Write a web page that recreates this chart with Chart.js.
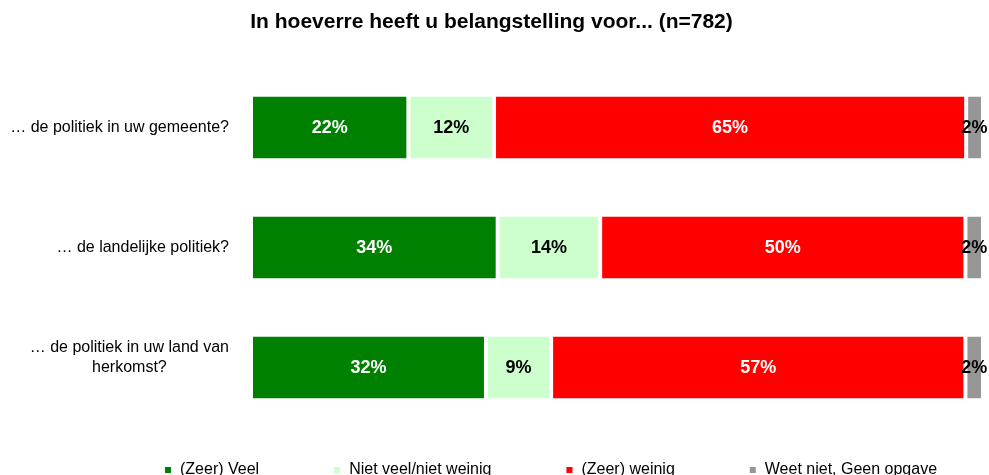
<!DOCTYPE html>
<html>
<head>
<meta charset="utf-8">
<script src="https://cdn.jsdelivr.net/npm/chart.js@4"></script>
<style>
    html, body { margin: 0; padding: 0; background: #fff; }
</style>
</head>
<body>
<canvas id="grafiek" width="989" height="475"></canvas>
<script>
// categorieen (meerdere regels = array)
const categories = [
    ["… de politiek in uw gemeente?"],
    ["… de landelijke politiek?"],
    ["… de politiek in uw land van", "herkomst?"]
]
const seriesNames = ["(Zeer) Veel", "Niet veel/niet weinig", "(Zeer) weinig", "Weet niet, Geen opgave"]

// percentages per vraag
const veel     = [21.5, 33.7, 32.1]
const neutraal = [11.7, 14.0, 8.9]
const weinig   = [64.5, 49.9, 56.6]
const weetNiet = [2.3, 2.4, 2.4]

const font = '"Liberation Sans", Arial, sans-serif'

function maakSerie(naam, waarden, kleur, tekstKleur) {
    return {
        label: naam,
        data: waarden,
        backgroundColor: kleur,
        borderColor: "#ffffff",
        borderWidth: 2,
        borderSkipped: false,
        categoryPercentage: 1,
        barPercentage: 0.545,
        labelColor: tekstKleur
    }
}

// percentages in de balken
const waardeLabels = {
    id: "waardeLabels",
    afterDatasetsDraw(chart) {
        let ctx = chart.ctx
        ctx.save()
        ctx.font = "bold 18px " + font
        ctx.textAlign = "center"
        ctx.textBaseline = "middle"
        chart.data.datasets.forEach((ds, i) => {
            chart.getDatasetMeta(i).data.forEach((bar, j) => {
                let p = bar.getCenterPoint()
                ctx.fillStyle = ds.labelColor
                ctx.fillText(Math.round(ds.data[j]) + "%", p.x, p.y + 1)
            })
        })
        ctx.restore()
    }
}

// vraagteksten links, blok rechts uitgelijnd, regels gecentreerd
const vraagLabels = {
    id: "vraagLabels",
    afterDraw(chart) {
        let ctx = chart.ctx
        let schaal = chart.scales.y
        let rechts = chart.chartArea.left - 22
        ctx.save()
        ctx.font = "16px " + font
        ctx.fillStyle = "#000"
        ctx.textAlign = "center"
        ctx.textBaseline = "middle"
        categories.forEach((regels, i) => {
            let cy = schaal.getPixelForValue(i)
            let w = Math.max(...regels.map(r => ctx.measureText(r).width))
            regels.forEach((r, k) => {
                ctx.fillText(r, rechts - w / 2, cy - (regels.length - 1 - k) * 20)
            })
        })
        ctx.restore()
    }
}

// legenda onderaan
const legenda = {
    id: "legenda",
    afterDraw(chart) {
        let ctx = chart.ctx
        ctx.save()
        ctx.font = "16px " + font
        ctx.textBaseline = "alphabetic"
        ctx.textAlign = "left"
        let x = 165
        chart.data.datasets.forEach(ds => {
            ctx.fillStyle = ds.backgroundColor
            ctx.fillRect(x, 467, 6, 6)
            ctx.fillStyle = "#000"
            ctx.fillText(ds.label, x + 15, 474)
            x += 15 + ctx.measureText(ds.label).width + 75
        })
        ctx.restore()
    }
}

new Chart(document.getElementById("grafiek"), {
    type: "bar",
    data: {
        labels: categories,
        datasets: [
            maakSerie(seriesNames[0], veel, "#008000", "#ffffff"),
            maakSerie(seriesNames[1], neutraal, "#ccffcc", "#000000"),
            maakSerie(seriesNames[2], weinig, "#ff0000", "#ffffff"),
            maakSerie(seriesNames[3], weetNiet, "#969696", "#000000")
        ]
    },
    options: {
        indexAxis: "y",
        responsive: false,
        animation: false,
        layout: { padding: { top: 0, right: 6, bottom: 47.5, left: 0 } },
        plugins: {
            legend: { display: false },
            tooltip: { enabled: false },
            title: {
                display: true,
                text: "In hoeverre heeft u belangstelling voor... (n=782)",
                color: "#000",
                font: { family: font, size: 21, weight: "bold" },
                padding: { top: 10, bottom: 32.2 }
            }
        },
        scales: {
            x: { stacked: true, min: 0, max: 100, display: false },
            y: {
                stacked: true,
                ticks: { display: false },
                grid: { display: false },
                border: { display: false },
                afterFit: s => { s.width = 251 }
            }
        }
    },
    plugins: [waardeLabels, vraagLabels, legenda]
})
</script>
</body>
</html>
